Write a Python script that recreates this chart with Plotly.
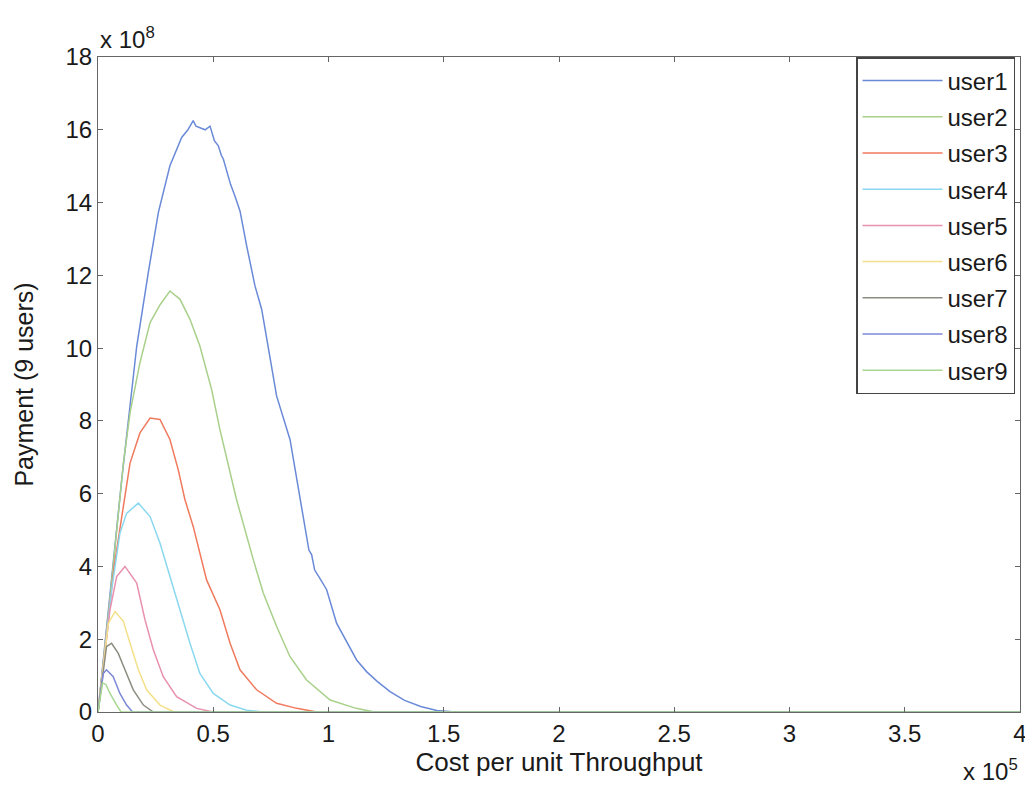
import plotly.graph_objects as go

# Cost per unit throughput (x 1e5) and payment (x 1e8) for each user
user1_x = [0, 0.02, 0.05, 0.103, 0.131, 0.168, 0.218, 0.262, 0.312, 0.345, 0.363, 0.39, 0.413, 0.425,
           0.442, 0.465, 0.486, 0.505, 0.522, 0.535, 0.544, 0.575, 0.594, 0.616, 0.645, 0.681, 0.71,
           0.732, 0.775, 0.833, 0.862, 0.876, 0.9, 0.915, 0.927, 0.94, 0.96, 0.992, 1.035, 1.08, 1.122,
           1.165, 1.21, 1.267, 1.33, 1.4, 1.47, 1.55, 4.0]
user1_y = [0, 1.2, 3.1, 6.39, 8.04, 10.05, 12.07, 13.73, 15.01, 15.55, 15.79, 16.0, 16.25, 16.1,
           16.06, 16.0, 16.1, 15.7, 15.56, 15.3, 15.19, 14.5, 14.18, 13.77, 12.81, 11.71, 11.07,
           10.24, 8.68, 7.49, 6.39, 5.84, 5.0, 4.45, 4.32, 3.9, 3.7, 3.36, 2.44, 1.9, 1.43,
           1.11, 0.85, 0.56, 0.32, 0.15, 0.04, 0.0, 0.0]

user2_x = [0, 0.02, 0.05, 0.11, 0.139, 0.182, 0.226, 0.27, 0.312, 0.356, 0.399, 0.442, 0.493, 0.529,
           0.573, 0.601, 0.674, 0.717, 0.775, 0.833, 0.905, 1.007, 1.12, 1.2, 4.0]
user2_y = [0, 1.2, 3.0, 6.84, 8.22, 9.6, 10.7, 11.2, 11.57, 11.34, 10.79, 10.06, 8.86, 7.76,
           6.57, 5.84, 4.18, 3.27, 2.35, 1.52, 0.88, 0.33, 0.1, 0.0, 0.0]

user3_x = [0, 0.03, 0.07, 0.139, 0.182, 0.226, 0.269, 0.312, 0.348, 0.377, 0.413, 0.471, 0.529,
           0.573, 0.616, 0.688, 0.775, 0.862, 0.95, 4.0]
user3_y = [0, 1.7, 4.0, 6.84, 7.67, 8.08, 8.04, 7.49, 6.66, 5.84, 5.1, 3.63, 2.81,
           1.89, 1.16, 0.61, 0.24, 0.1, 0.0, 0.0]

user4_x = [0, 0.03, 0.06, 0.095, 0.124, 0.175, 0.226, 0.269, 0.312, 0.356, 0.399, 0.442, 0.5,
           0.573, 0.645, 0.72, 4.0]
user4_y = [0, 1.7, 3.4, 4.91, 5.46, 5.74, 5.37, 4.64, 3.72, 2.81, 1.89, 1.06, 0.51,
           0.19, 0.05, 0.0, 0.0]

user5_x = [0, 0.025, 0.052, 0.081, 0.117, 0.168, 0.204, 0.24, 0.283, 0.341, 0.428, 0.5, 4.0]
user5_y = [0, 1.4, 2.81, 3.72, 4.0, 3.54, 2.53, 1.71, 0.97, 0.42, 0.1, 0.0, 0.0]

user6_x = [0, 0.02, 0.045, 0.074, 0.11, 0.139, 0.175, 0.211, 0.269, 0.33, 4.0]
user6_y = [0, 1.1, 2.44, 2.76, 2.49, 1.89, 1.16, 0.61, 0.19, 0.0, 0.0]

user7_x = [0, 0.015, 0.037, 0.059, 0.088, 0.117, 0.153, 0.197, 0.24, 4.0]
user7_y = [0, 0.8, 1.8, 1.89, 1.61, 1.16, 0.61, 0.19, 0.0, 0.0]

user8_x = [0, 0.01, 0.023, 0.037, 0.066, 0.095, 0.124, 0.15, 4.0]
user8_y = [0, 0.5, 1.06, 1.16, 0.97, 0.51, 0.19, 0.0, 0.0]

user9_x = [0, 0.008, 0.02, 0.035, 0.052, 0.081, 0.1, 4.0]
user9_y = [0, 0.35, 0.8, 0.75, 0.51, 0.19, 0.0, 0.0]

series_names = ["user1", "user2", "user3", "user4", "user5", "user6", "user7", "user8", "user9"]
series_x = [user1_x, user2_x, user3_x, user4_x, user5_x, user6_x, user7_x, user8_x, user9_x]
series_y = [user1_y, user2_y, user3_y, user4_y, user5_y, user6_y, user7_y, user8_y, user9_y]
series_colors = ["#6a8ad8", "#a8d08a", "#f07a5e", "#8ad8f0", "#e890b0",
                 "#f5e08a", "#8c8c80", "#7c88d8", "#a8d890"]

x_ticks = [0, 0.5, 1, 1.5, 2, 2.5, 3, 3.5, 4]
x_tick_labels = ["0", "0.5", "1", "1.5", "2", "2.5", "3", "3.5", "4"]
y_ticks = [0, 2, 4, 6, 8, 10, 12, 14, 16, 18]

FONT = "Liberation Sans, Arial, sans-serif"
TXT = "#1a1a1a"

fig = go.Figure()
for name, xs, ys, col in zip(series_names, series_x, series_y, series_colors):
    fig.add_trace(go.Scatter(x=xs, y=ys, mode="lines", name=name, legendgroup=name,
                             line=dict(color=col, width=1.5)))

axis_common = dict(showline=True, linecolor="#666666", linewidth=1, mirror="allticks",
                   ticks="inside", ticklen=5, tickcolor="#666666", showgrid=False,
                   zeroline=False, ticklabeloverflow="allow", automargin=False,
                   tickfont=dict(family=FONT, size=24, color=TXT))

fig.update_xaxes(range=[0, 4], tickvals=x_ticks, ticktext=x_tick_labels,
                 title=dict(text="Cost per unit Throughput", standoff=4,
                            font=dict(family=FONT, size=26, color=TXT)),
                 **axis_common)
fig.update_yaxes(range=[0, 18], tickvals=y_ticks,
                 title=dict(text="Payment (9 users)", standoff=24,
                            font=dict(family=FONT, size=25, color=TXT)),
                 **axis_common)

fig.add_annotation(text="x 10<sup>8</sup>", xref="paper", yref="paper", x=0, y=1.0,
                   xanchor="left", yanchor="bottom", yshift=2, showarrow=False,
                   font=dict(family=FONT, size=24, color=TXT))
fig.add_annotation(text="x 10<sup>5</sup>", xref="paper", yref="paper", x=1.0, y=0,
                   xanchor="right", yanchor="bottom", yshift=-75, showarrow=False,
                   font=dict(family=FONT, size=24, color=TXT))

fig.update_layout(
    width=1025, height=788,
    margin=dict(l=98, r=5, t=57, b=76),
    paper_bgcolor="white", plot_bgcolor="white",
    showlegend=True,
    legend=dict(x=0.9946, y=1.0, xanchor="right", yanchor="top",
                bordercolor="#444444", borderwidth=1.5, bgcolor="white",
                font=dict(family=FONT, size=24, color=TXT),
                itemwidth=80, tracegroupgap=2),
)

fig.write_html("out.html")
